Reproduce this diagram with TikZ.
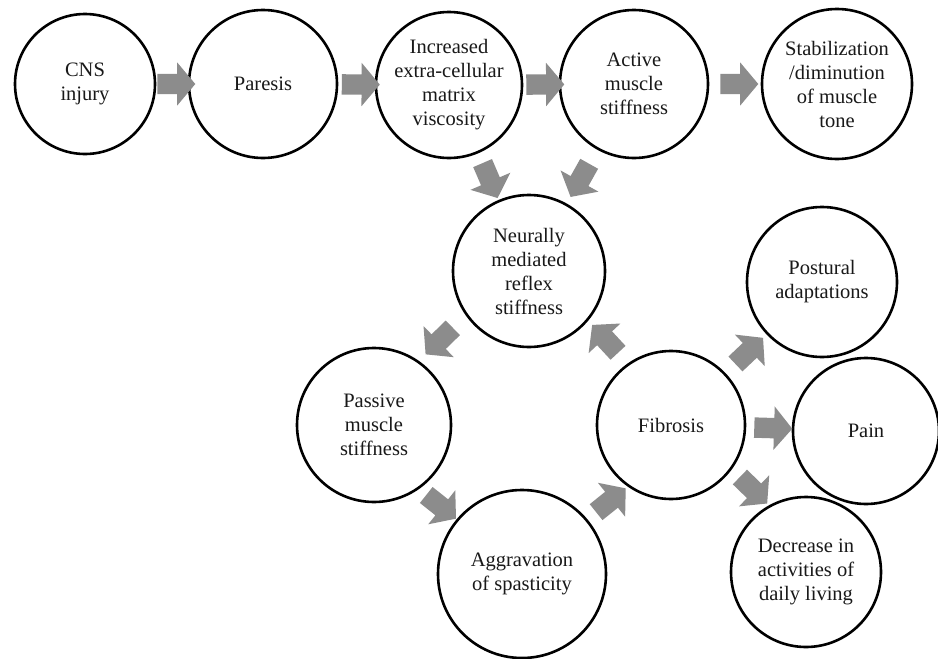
\documentclass[tikz,border=0pt]{standalone}
\usepackage{fontspec}
\setmainfont{Liberation Serif}
\usetikzlibrary{shapes.arrows}
\definecolor{agray}{RGB}{140,140,140}
\definecolor{txt}{RGB}{25,25,25}
\begin{document}
\begin{tikzpicture}[x=1pt,y=-1pt,
  circ/.style={circle, draw=black, line width=2.6pt, inner sep=0pt, align=center,
    text=txt, font=\fontsize{20.5}{24}\selectfont},
  rad/.style={minimum size=2*#1pt},
  blk/.style={single arrow, fill=agray, draw=none, minimum height=38pt,
    minimum width=43pt, single arrow head extend=11.5pt, single arrow tip angle=100,
    inner xsep=0pt, inner ysep=10pt, sloped, allow upside down}]
\useasboundingbox (0,0) rectangle (938,659);
\fill[white] (0,0) rectangle (938,659);
% top row
\node[circ, rad=70] (cns) at (85,84) {CNS\\injury};
\node[circ, rad=74] (par) at (263,84) {Paresis};
\node[circ, rad=73] (inc) at (449,85) {Increased\\extra-cellular\\matrix\\viscosity};
\node[circ, rad=74] (act) at (634,84) {Active\\muscle\\stiffness};
\node[circ, rad=75] (stab) at (837,84) {Stabilization\\/diminution\\of muscle\\tone};
% middle
\node[circ, rad=76] (neur) at (529,271) {Neurally\\mediated\\reflex\\stiffness};
\node[circ, rad=75] (post) at (822,282) {Postural\\adaptations};
\node[circ, rad=77] (pas) at (374,425) {Passive\\muscle\\stiffness};
\node[circ, rad=74] (fib) at (671,425) {Fibrosis};
\node[circ, rad=73] (pain) at (866,431) {Pain};
% bottom
\node[circ, rad=84] (agg) at (522,574) {Aggravation\\of spasticity};
\node[circ, rad=75] (dec) at (806,572) {Decrease in\\activities of\\daily living};
% block arrows
\path (cns) -- node[blk] {} (par);
\path (par) -- node[blk] {} (inc);
\path (inc) -- node[blk] {} (act);
\path (act) -- node[blk] {} (stab);
\path (inc) -- node[blk] {} (neur);
\path (act) -- node[blk] {} (neur);
\path (neur.215) -- node[blk] {} (pas.55);
\path (pas.-55) -- node[blk] {} (agg.140);
\path (agg.40) -- node[blk] {} (fib.235);
\path (fib.125) -- node[blk] {} (neur.-40);
\path (fib) -- node[blk] {} (post);
\path (fib) -- node[blk] {} (pain);
\path (fib.-36) -- node[blk] {} (dec.119);
\end{tikzpicture}
\end{document}
